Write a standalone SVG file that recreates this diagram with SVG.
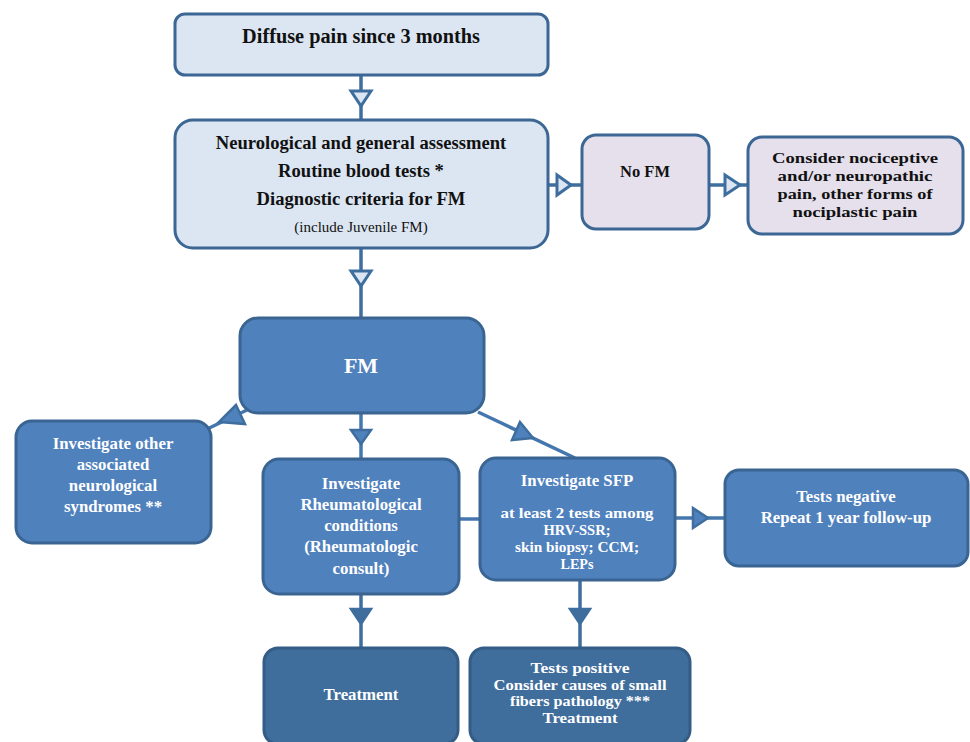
<svg xmlns="http://www.w3.org/2000/svg" width="970" height="742" viewBox="0 0 970 742">
<style>
.t{font-family:"Liberation Serif","DejaVu Serif",serif;font-weight:bold;text-anchor:middle}
.r{font-weight:normal}
.dk{fill:#111}
.wh{fill:#fff}
.light{fill:#dce6f2;stroke:#3c6794;stroke-width:3}
.lilac{fill:#e5e0ec;stroke:#3c6794;stroke-width:3}
.mid{fill:#4f81bd;stroke:#3a6592;stroke-width:3}
.dark{fill:#3f6e9d;stroke:#345d86;stroke-width:3}
.ln{stroke:#3e6e9e;stroke-width:3.5;fill:none}
.ln2{stroke:#4477ae;stroke-width:3.5;fill:none}
.ah-o{fill:#dce6f2;stroke:#3e6e9e;stroke-width:3;stroke-linejoin:miter}
.ah-f{fill:#4f81bd;stroke:#3e6e9e;stroke-width:2.5}
.ah-d{fill:#3f6e9d;stroke:#3e6e9e;stroke-width:2.5}
</style>
<rect width="970" height="742" fill="#fff"/>
<g id="connectors">
  <line class="ln" x1="361" y1="75" x2="361" y2="120"/>
  <polygon class="ah-o" points="351,91 371,91 361,106"/>
  <line class="ln" x1="548" y1="185" x2="582" y2="185"/>
  <polygon class="ah-o" points="557,175 557,195 571,185"/>
  <line class="ln" x1="709" y1="185" x2="748" y2="185"/>
  <polygon class="ah-o" points="725,175 725,195 740,185"/>
  <line class="ln" x1="361" y1="248" x2="361" y2="318"/>
  <polygon class="ah-o" points="351,271 371,271 361,286"/>
  <line class="ln2" x1="247" y1="410" x2="205" y2="430"/>
  <polygon class="ah-f" points="236,405 245,424 219,422"/>
  <line class="ln2" x1="361" y1="413" x2="361" y2="459"/>
  <polygon class="ah-f" points="351,430 371,430 361,444"/>
  <line class="ln2" x1="478" y1="412" x2="575" y2="458"/>
  <polygon class="ah-f" points="520,422 512,440 533,438"/>
  <line class="ln2" x1="459" y1="519" x2="480" y2="519"/>
  <line class="ln2" x1="675" y1="518" x2="725" y2="518"/>
  <polygon class="ah-f" points="693,508 693,528 708,518"/>
  <line class="ln" x1="361" y1="594" x2="361" y2="648"/>
  <polygon class="ah-d" points="351,609 371,609 361,624"/>
  <line class="ln" x1="580" y1="580" x2="580" y2="648"/>
  <polygon class="ah-d" points="570,609 590,609 580,624"/>
</g>
<g id="n1">
  <rect class="light" x="175" y="14" width="373" height="61" rx="10"/>
  <text class="t dk" x="361" y="43" font-size="20.3">Diffuse pain since 3 months</text>
</g>
<g id="n2">
  <rect class="light" x="175" y="120" width="373" height="128" rx="18"/>
  <text class="t dk" x="361" y="149" font-size="18.6">Neurological and general assessment</text>
  <text class="t dk" x="361" y="177" font-size="18.6">Routine blood tests *</text>
  <text class="t dk" x="361" y="205" font-size="18.6">Diagnostic criteria for FM</text>
  <text class="t dk r" x="361" y="232" font-size="15">(include Juvenile FM)</text>
</g>
<g id="n3">
  <rect class="lilac" x="582" y="135" width="127" height="94" rx="14"/>
  <text class="t dk" x="645" y="177" font-size="16.5">No FM</text>
</g>
<g id="n4">
  <rect class="lilac" x="748" y="137" width="215" height="97" rx="14"/>
  <text class="t dk" x="855" y="163" font-size="15.5" textLength="166" lengthAdjust="spacingAndGlyphs">Consider nociceptive</text>
  <text class="t dk" x="855" y="181" font-size="15.5" textLength="155" lengthAdjust="spacingAndGlyphs">and/or neuropathic</text>
  <text class="t dk" x="855" y="199" font-size="15.5" textLength="155" lengthAdjust="spacingAndGlyphs">pain, other forms of</text>
  <text class="t dk" x="855" y="217" font-size="15.5" textLength="125" lengthAdjust="spacingAndGlyphs">nociplastic pain</text>
</g>
<g id="n5">
  <rect class="mid" x="240" y="318" width="244" height="95" rx="18"/>
  <text class="t wh" x="361" y="373" font-size="22">FM</text>
</g>
<g id="n6">
  <rect class="mid" x="16" y="421" width="195" height="122" rx="16"/>
  <text class="t wh" x="113" y="449" font-size="16.8">Investigate other</text>
  <text class="t wh" x="113" y="470" font-size="16.8">associated</text>
  <text class="t wh" x="113" y="491" font-size="16.8">neurological</text>
  <text class="t wh" x="113" y="512" font-size="16.8">syndromes **</text>
</g>
<g id="n7">
  <rect class="mid" x="263" y="459" width="196" height="135" rx="16"/>
  <text class="t wh" x="361" y="489" font-size="16.8">Investigate</text>
  <text class="t wh" x="361" y="510" font-size="16.8">Rheumatological</text>
  <text class="t wh" x="361" y="531" font-size="16.8">conditions</text>
  <text class="t wh" x="361" y="552" font-size="16.8">(Rheumatologic</text>
  <text class="t wh" x="361" y="574" font-size="16.8">consult)</text>
</g>
<g id="n8">
  <rect class="mid" x="480" y="458" width="195" height="122" rx="16"/>
  <text class="t wh" x="577" y="486" font-size="16.8">Investigate SFP</text>
  <text class="t wh" x="577" y="518" font-size="14" textLength="153" lengthAdjust="spacingAndGlyphs">at least 2 tests among</text>
  <text class="t wh" x="577" y="535" font-size="14" textLength="67" lengthAdjust="spacingAndGlyphs">HRV-SSR;</text>
  <text class="t wh" x="577" y="552" font-size="14" textLength="124" lengthAdjust="spacingAndGlyphs">skin biopsy; CCM;</text>
  <text class="t wh" x="577" y="569" font-size="14" textLength="33" lengthAdjust="spacingAndGlyphs">LEPs</text>
</g>
<g id="n9">
  <rect class="mid" x="725" y="470" width="243" height="96" rx="14"/>
  <text class="t wh" x="846" y="502" font-size="16.8">Tests negative</text>
  <text class="t wh" x="846" y="523" font-size="16.8">Repeat 1 year follow-up</text>
</g>
<g id="n10">
  <rect class="dark" x="264" y="648" width="194" height="96" rx="14"/>
  <text class="t wh" x="361" y="700" font-size="16.8">Treatment</text>
</g>
<g id="n11">
  <rect class="dark" x="470" y="648" width="220" height="96" rx="14"/>
  <text class="t wh" x="580" y="673" font-size="14" textLength="99" lengthAdjust="spacingAndGlyphs">Tests positive</text>
  <text class="t wh" x="580" y="689.5" font-size="14" textLength="173" lengthAdjust="spacingAndGlyphs">Consider causes of small</text>
  <text class="t wh" x="580" y="706" font-size="14" textLength="140" lengthAdjust="spacingAndGlyphs">fibers pathology ***</text>
  <text class="t wh" x="580" y="722.5" font-size="14" textLength="75" lengthAdjust="spacingAndGlyphs">Treatment</text>
</g>
</svg>
